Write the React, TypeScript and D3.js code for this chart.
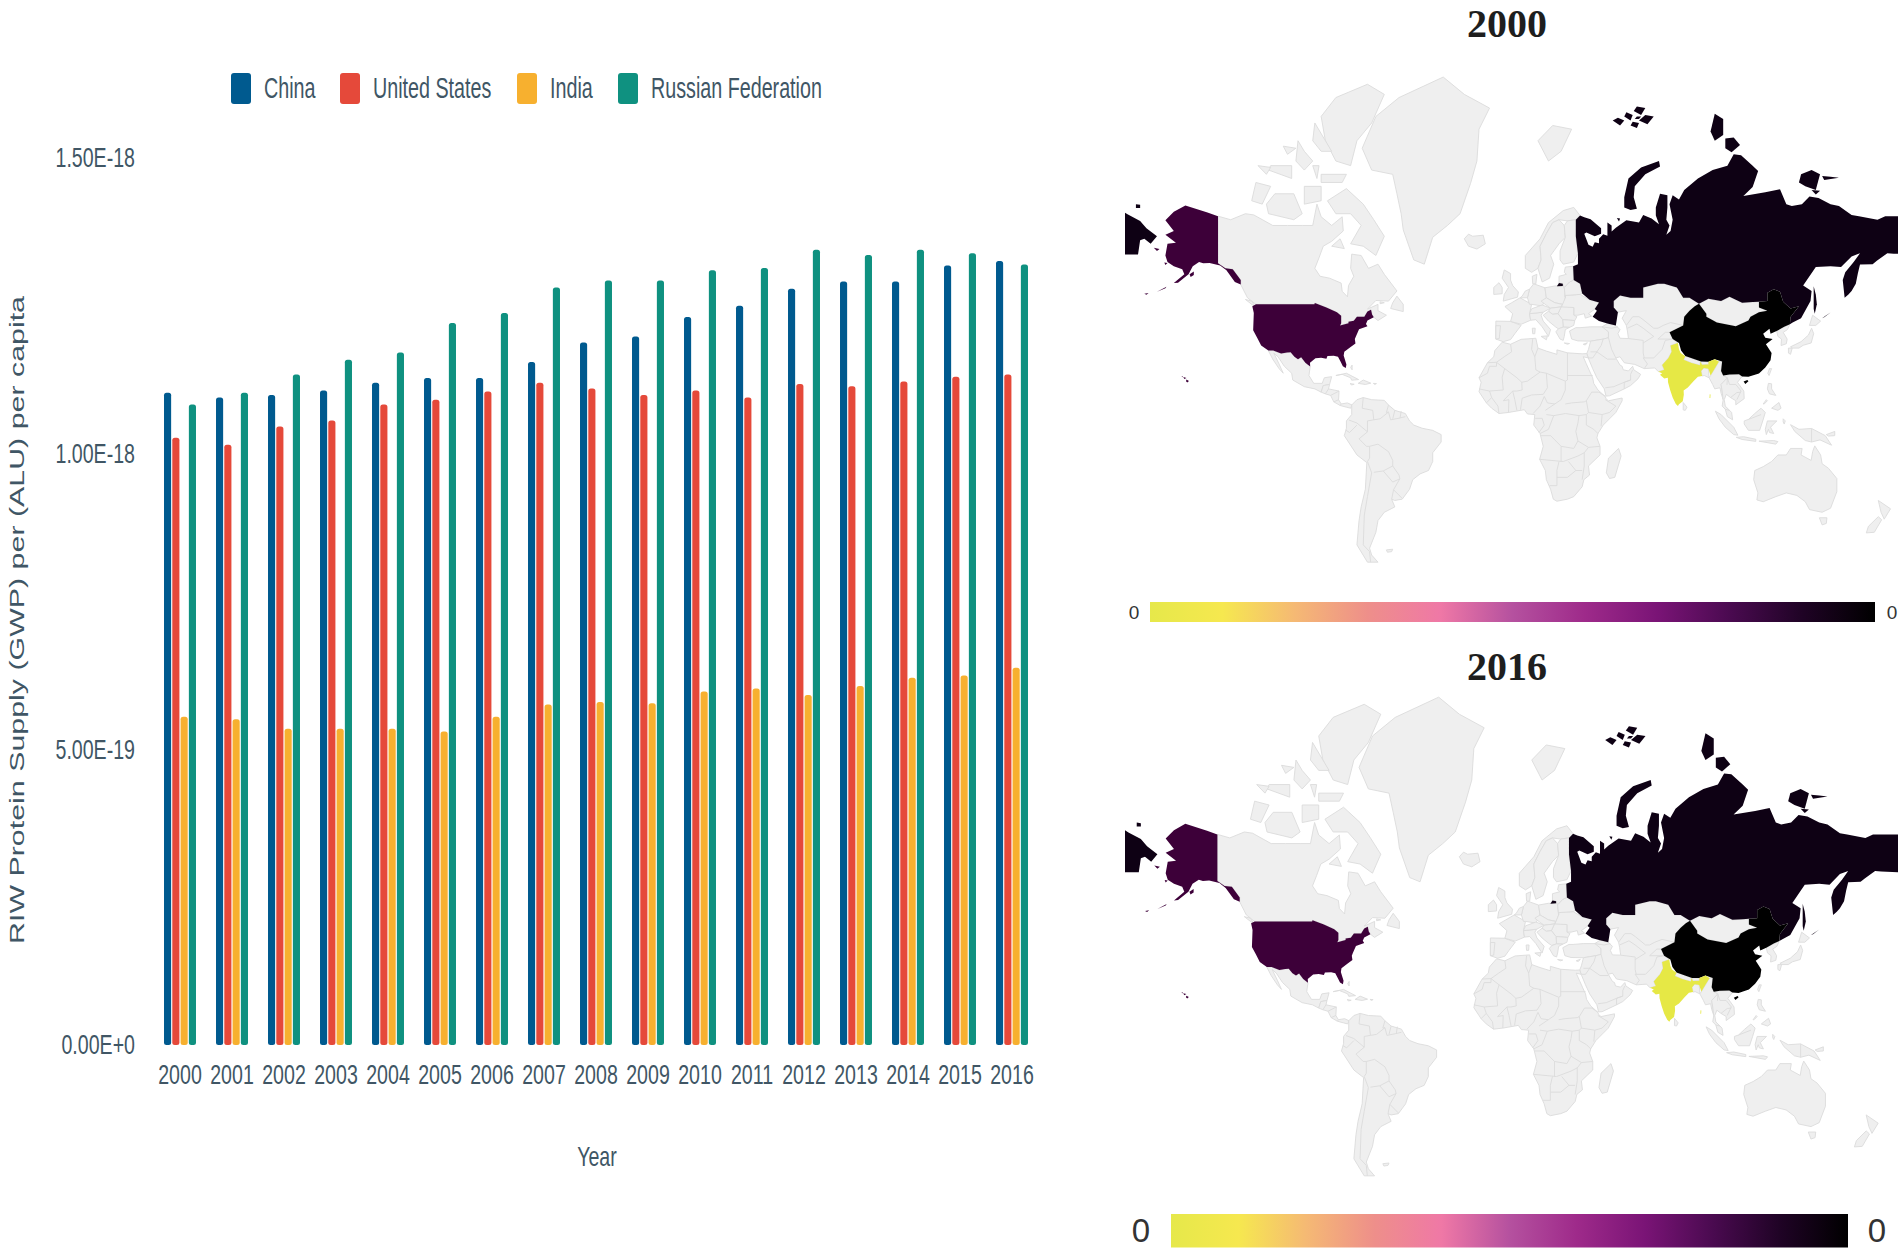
import { useEffect, useRef } from "react";
import * as d3 from "d3";

const YEARS = [2000, 2001, 2002, 2003, 2004, 2005, 2006, 2007, 2008, 2009, 2010, 2011, 2012, 2013, 2014, 2015, 2016];
const SERIES_NAMES = ["China", "United States", "India", "Russian Federation"];
const SERIES_COLORS = ["#005a8f", "#e5493a", "#f7b02f", "#0f9180"];
const CHINA = [1.103, 1.095, 1.099, 1.107, 1.12, 1.128, 1.128, 1.155, 1.188, 1.198, 1.231, 1.25, 1.279, 1.291, 1.291, 1.318, 1.326];
const UNITED_STATES = [1.027, 1.015, 1.046, 1.056, 1.083, 1.091, 1.105, 1.12, 1.11, 1.099, 1.107, 1.095, 1.118, 1.114, 1.122, 1.13, 1.134];
const INDIA = [0.555, 0.551, 0.535, 0.535, 0.535, 0.53, 0.555, 0.576, 0.58, 0.578, 0.598, 0.603, 0.592, 0.607, 0.621, 0.625, 0.638];
const RUSSIA = [1.083, 1.103, 1.134, 1.159, 1.171, 1.221, 1.238, 1.281, 1.293, 1.293, 1.31, 1.314, 1.345, 1.336, 1.345, 1.339, 1.32];
const Y_TICKS = [0, 0.5, 1, 1.5];
const Y_LABELS = ["0.00E+0", "5.00E-19", "1.00E-18", "1.50E-18"];

const SCALE_STOPS = ["#e6e84a", "#f6e84f", "#f5b974", "#ee8f8a", "#ef78a6", "#b5519f", "#9e2a8a", "#7a1476", "#4a0a50", "#1f0325", "#000000"];

type Ring = number[][];

// outlines in lon/lat
const RUSSIA_LAND: Ring[] = [
  [[31, 69.7], [33, 69.4], [36, 69.1], [41, 67.5], [41, 66.5], [38, 66], [34, 66.7], [33, 66.5], [35, 64.3], [37, 63.9], [38, 64.8], [40, 64.6], [40, 65.5], [42, 66.4], [44, 66.1], [44, 68.5], [46, 68], [46, 66.9], [48, 67.6], [53, 68.9], [59, 68.5], [61, 69.8], [65, 69.2], [68.5, 68.2], [67, 69.7], [67, 71], [69, 73], [72.5, 72.8], [72.5, 71], [72, 69], [73.5, 68], [72, 66.3], [74, 67], [75, 69], [73.5, 71.5], [75, 72.8], [78, 72.2], [80.5, 73.5], [87, 75], [94, 76], [101, 76.5], [104, 77.7], [107.5, 77.6], [113, 76.5], [115.6, 75.9], [113, 73.9], [108.6, 72.7], [119, 73.2], [126, 73.6], [129, 71.5], [131.6, 71.2], [136.4, 71.5], [140, 72.6], [144.3, 72.4], [150, 71.5], [154, 71.2], [160, 69.8], [163.5, 69.6], [172.3, 69], [176, 69.6], [182, 69.6], [190, 69.6], [190, 62.2], [180, 62.4], [177, 62.5], [172, 60.8], [170, 60], [164, 59.9], [163, 57.8], [162, 55], [160, 53], [158.5, 52], [156.7, 51], [155.8, 56], [157, 58], [161, 60.5], [164, 62.5], [160, 61.8], [155, 59.3], [150, 59.5], [143, 59.3], [137, 54.5], [141, 53], [140.5, 50], [136, 44.5], [132, 43], [130.7, 42.4], [131, 44.9], [135, 48.4], [131, 47.7], [127.5, 49.8], [126, 52.8], [123, 53.5], [120, 52.5], [120, 50], [116, 49.8], [113, 49.7], [108, 49.5], [102, 51.3], [98, 50], [92, 50.7], [87.5, 49.2], [83, 51], [80, 51], [77, 54], [71, 55], [68, 55], [61, 54], [61, 51], [55, 51], [50, 51.7], [47, 50], [47, 48], [49, 46.5], [48, 42], [44, 42.7], [40, 43.5], [37, 45], [39, 47], [38, 47.5], [40, 49.6], [35.5, 50.4], [32, 52.3], [31, 55], [28, 56], [27.7, 59.5], [30, 60], [30, 62.5], [29, 66], [29, 69]],
  [[-190, 71.2], [-184, 69.9], [-178, 68.8], [-175, 67.5], [-170, 66], [-173, 64.5], [-176, 65.5], [-178, 65.2], [-179, 62.2], [-190, 62.2]],
  [[52, 71], [55, 70.6], [58, 70.8], [56.5, 72.5], [57, 74], [62, 75.5], [69, 76.4], [68.5, 77], [60, 76.3], [54, 75], [52, 72.5]],
  [[93, 79.8], [95, 81.2], [99, 80.8], [99, 79.5], [95, 79]],
  [[100, 79.2], [104, 79.3], [107, 78.6], [103, 77.9], [100, 78.3]],
  [[46.5, 80.7], [50, 80.3], [52, 80.7], [49, 80.9]],
  [[52, 81], [55, 80.7], [56, 81.1], [53, 81.3]],
  [[56.5, 81.4], [60, 81.1], [62, 81.6], [58, 81.7]],
  [[55, 80.3], [58, 80.1], [59, 80.5], [56, 80.6]],
  [[59, 80.7], [63, 80.4], [66, 81], [62, 81.1]],
  [[57, 80.8], [59, 80.8], [60, 81], [58, 81]],
  [[136, 75.5], [141, 76], [145, 75.5], [143, 73.5], [138, 74], [135, 74.5]],
  [[146, 75.3], [150, 75.2], [154, 75.1], [147, 74.8]],
  [[141, 73.5], [145, 73.4], [143, 72.9]],
  [[48.5, 69.3], [50, 69.2], [49.5, 68.7]],
  [[-180, 71.5], [-178, 71.4], [-178, 70.9], [-180, 70.9]],
  [[142, 54.3], [143, 52], [143.5, 49], [142.5, 46], [142, 47.5], [142, 51]],
  [[146, 44.5], [148, 45.5], [150, 46.4], [147, 44.8]],
  [[20, 54.3], [22.8, 54.4], [22.8, 55], [21, 55.2]],
];
const CHINA_LAND: Ring[] = [
  [[73.5, 39.5], [80, 42], [80.5, 45], [83, 47], [85.5, 48.4], [87.5, 49.2], [91, 46], [91, 45], [96, 43], [105, 41.7], [111, 43.7], [112, 45], [116, 46.5], [120, 47], [116, 48], [116, 49.8], [120, 50], [120, 52.5], [123, 53.5], [126, 52.8], [127.5, 49.8], [131, 47.7], [135, 48.4], [131, 44.9], [130.7, 42.4], [128, 41.5], [124.4, 40], [121.5, 39], [121, 40.8], [118, 39], [119, 37.5], [122.5, 37], [119.3, 35], [122, 31.5], [121.5, 28.5], [119, 25.5], [116, 22.9], [111, 21.4], [108, 21.6], [106.5, 22.5], [102, 22.4], [99, 22], [98, 24], [98.5, 28], [95, 29], [92, 27.9], [88.5, 28], [81, 30.3], [79, 32.5], [78, 35.5], [75, 37]],
  [[108.7, 19.3], [110.5, 20], [111, 19.5], [109.5, 18.2]],
];
const USA_LAND: Ring[] = [
  [[-124.7, 48.4], [-123, 49], [-95.2, 49], [-95, 49.4], [-89.5, 48], [-84.5, 46.5], [-82.5, 45.3], [-82.5, 42.8], [-83, 42], [-79, 42.8], [-79, 43.3], [-76.5, 43.6], [-75, 45], [-71.5, 45], [-70, 46.7], [-68.3, 47.3], [-67.8, 45.7], [-67, 44.8], [-70, 43.7], [-70.7, 42.5], [-70, 41.7], [-74, 40.6], [-75.5, 38], [-76, 37], [-75.7, 35.3], [-78, 33.9], [-81, 32], [-81.3, 30.5], [-80, 26.8], [-80.3, 25.3], [-81.7, 26], [-82.8, 28], [-84, 30], [-86, 30.4], [-89, 30.3], [-89.5, 29.2], [-92, 29.6], [-94.7, 29.4], [-97.3, 27.5], [-97.2, 25.9], [-99.5, 27.5], [-101.5, 29.8], [-103, 29], [-104.7, 30], [-106.5, 31.8], [-108.2, 31.7], [-111, 31.3], [-114.8, 32.5], [-117.1, 32.5], [-120.5, 34.5], [-122.4, 37.5], [-124.3, 40.3], [-124, 46.2]],
  [[-141, 69.6], [-146, 70.2], [-156.5, 71.3], [-162, 70.3], [-166, 68.9], [-162, 67], [-166, 66.3], [-161, 64.7], [-165, 64.5], [-166, 62], [-165, 60.5], [-162, 59.5], [-158, 58.8], [-157, 57.5], [-162, 55.2], [-160, 55.3], [-155, 57.5], [-153, 59.5], [-150, 60.5], [-148, 60.2], [-145, 60.3], [-140, 59.7], [-137, 58.5], [-133, 55.5], [-130.2, 54.8], [-130.2, 56], [-134, 58.8], [-137.5, 59], [-141, 60.2]],
  [[-156, 20.2], [-154.8, 19.6], [-155.6, 18.9], [-156.2, 19.5]],
  [[-157.5, 21.3], [-156, 20.9], [-157, 20.4]],
  [[-158.3, 21.7], [-157.7, 21.7], [-158, 21.2]],
  [[-170, 52.8], [-166, 53.8], [-165.5, 54.2], [-168, 53.4]],
  [[-154.5, 57.5], [-152.5, 58.2], [-152.5, 57.3], [-154, 56.8]],
  [[-171.5, 63.7], [-168.8, 63.4], [-170, 63]],
  [[-166.5, 60.4], [-165, 60.3], [-166, 59.8]],
  [[-176, 52.2], [-174, 52.4], [-175, 51.9]],
];
const INDIA_LAND: Ring[] = [
  [[77.5, 35.5], [78, 33], [78.8, 31.5], [81, 30.2], [80.2, 28.8], [84, 27.4], [88, 26.4], [88.1, 28], [89, 26.7], [92, 26.8], [92, 27.9], [95, 29], [97, 28], [95, 25], [94, 23.5], [93, 22], [92, 24.8], [91.5, 25], [89.8, 25.3], [88.5, 24], [89, 21.8], [87, 21.5], [85, 19.6], [82.2, 16.6], [80.2, 15.3], [80.3, 13.3], [79.8, 10.3], [78, 8.9], [77.5, 8], [76.5, 9], [75, 12], [73.8, 15.5], [72.8, 19], [72.7, 21], [71, 20.7], [69, 22.3], [70, 23], [68.2, 23.7], [71, 24.5], [70, 26.5], [73, 29.5], [74.5, 32], [74, 34.5]],
  [[92.6, 13.5], [93, 13.4], [92.9, 11.8], [92.5, 11.8]],
];

const GREY_LAND: Ring[] = [
  // Canada and the Arctic
  [[-141, 69.6], [-135, 69], [-128, 70], [-124, 69.8], [-115, 68], [-108, 68], [-101, 68], [-96, 68], [-94, 71.5], [-92, 69.5], [-87, 68], [-82, 69.5], [-81.5, 67], [-87, 65], [-91, 64], [-93, 61.5], [-95, 59], [-92.5, 57], [-88, 56.5], [-82.5, 55.2], [-82, 52.9], [-79.5, 51.3], [-79, 54.5], [-76.5, 57], [-78, 59], [-77.5, 62.3], [-73, 62], [-69.5, 59], [-65, 60], [-62, 57.5], [-56, 53], [-60, 50], [-66, 50.2], [-70, 47.5], [-65, 49], [-65, 47], [-61, 45.5], [-65, 43.7], [-67, 44.8], [-67.8, 45.7], [-68.3, 47.3], [-70, 46.7], [-71.5, 45], [-75, 45], [-76.5, 43.6], [-79, 43.3], [-79, 42.8], [-83, 42], [-82.5, 42.8], [-82.5, 45.3], [-84.5, 46.5], [-89.5, 48], [-95, 49.4], [-95.2, 49], [-123, 49], [-127, 51], [-130.2, 54.8], [-130.2, 56], [-134, 58.8], [-137.5, 59], [-141, 60.2]],
  [[-62, 66], [-66, 62], [-72, 64], [-78, 64.5], [-73, 68], [-78, 70], [-85, 70], [-89, 72], [-80, 73.7], [-72, 71.5], [-67, 69]],
  [[-62, 82.5], [-70, 83.1], [-85, 82.3], [-92, 81], [-90, 79], [-85, 77], [-78, 76.5], [-75, 79], [-68, 80.5]],
  [[-117, 70], [-105, 69], [-101, 70], [-105, 73], [-114, 73], [-118, 71.5]],
  [[-125, 72], [-120, 71.5], [-116, 74], [-123, 74.5]],
  [[-92, 75.5], [-80, 75.5], [-82, 74.5], [-92, 74.5]],
  [[-95, 80.5], [-87, 78], [-92, 78], [-96, 79]],
  [[-117, 76], [-106, 75], [-106, 76.5], [-116, 76.5]],
  [[-100, 71.5], [-92, 72], [-92, 74], [-100, 74]],
  [[-103, 79], [-100, 78], [-96, 77], [-100, 76], [-104, 77]],
  [[-122, 76.5], [-116, 76.3], [-118, 75.5]],
  [[-110, 78.5], [-104, 78.3], [-108, 77.7]],
  [[-96, 76.5], [-93, 76.5], [-94, 75]],
  [[-59, 47.7], [-53, 46.7], [-53, 49], [-56, 51.5], [-58, 49.5]],
  [[-128, 50.5], [-124, 48.5], [-123.5, 48.5], [-125, 50]],
  [[-87, 64], [-81, 63.5], [-83, 65.5]],
  [[-64, 49.8], [-62, 49.5], [-64, 49.2]],
  // Greenland, Iceland, Svalbard
  [[-72.5, 78.3], [-66, 81], [-55, 82.3], [-34, 83.5], [-24, 82.5], [-12, 81.6], [-17, 80], [-18, 77], [-21, 74.4], [-26, 70], [-32, 68], [-39, 65.8], [-43, 60], [-48, 61], [-53, 67.2], [-54, 70], [-56, 73], [-58, 75.5], [-68, 76]],
  [[-24, 65.5], [-22, 64], [-18, 63.4], [-14, 64.5], [-15, 66.2], [-20, 66], [-22, 66.4]],
  [[11, 79], [16, 77], [22, 78], [27, 80], [18, 80.3]],
  // Europe
  [[-5.5, 50], [1.3, 51.2], [1.7, 52.7], [-1, 54.5], [-2, 56], [-2, 57.7], [-5, 58.6], [-6, 56.5], [-3, 54], [-5, 52]],
  [[-10, 52], [-6, 52.2], [-6, 54], [-7.5, 55.3], [-10, 54]],
  [[5, 59], [8, 58], [11, 59], [12.5, 61], [12, 64], [15, 66.5], [18, 68.5], [21, 69], [25, 68.8], [29, 69], [31, 69.7], [28, 71], [23, 70.5], [16, 68.5], [12, 65.5], [5, 62]],
  [[11, 59], [13, 55.5], [16.5, 56.5], [18.5, 60], [17, 62], [21, 64.5], [24, 65.8], [23.5, 68], [21, 69], [18, 68.5], [15, 66.5], [12, 64], [12.5, 61]],
  [[23, 60], [28, 60.5], [30, 62.5], [29, 66], [29, 69], [25, 68.8], [23.5, 68], [24, 65.8], [21.5, 63], [21.5, 61]],
  [[-9, 37], [-5.5, 36], [-2, 36.8], [0, 39], [3, 42], [-2, 43.4], [-9, 43.5]],
  [[-9, 37], [-7.4, 37.2], [-6.8, 41.9], [-9, 41.9]],
  [[-2, 43.4], [3, 42.4], [7.5, 43.8], [7, 46], [8, 49], [2.5, 51], [-1.5, 49.5], [-4.7, 48.3], [-1, 46]],
  [[7.5, 43.8], [10, 44], [13, 41.5], [16, 38], [17, 40.5], [13.5, 43.5], [12.5, 45.5], [13.5, 46.5], [7, 46]],
  [[12.5, 38], [15.5, 38.2], [15, 36.7]],
  [[8.3, 41], [9.7, 41], [9.5, 39], [8.5, 39]],
  [[7, 49], [8, 49], [13, 48.5], [15, 51], [14.3, 53.9], [9, 55], [7, 53.5], [6, 51]],
  [[2.5, 51], [6, 51], [7, 53.5], [5, 53], [3.5, 51.5]],
  [[7, 46], [13.5, 46.5], [17, 47.8], [13, 48.8], [8, 47.6]],
  [[14.3, 53.9], [15, 51], [19, 49.5], [23, 49], [24, 51], [23.5, 54], [22.8, 54.4], [19, 54.4]],
  [[8.5, 55], [10, 55], [10.5, 57.5], [8.3, 57]],
  [[12.5, 50], [15, 51], [19, 49.5], [22.5, 49], [22, 48.2], [17, 47.8], [15, 48.7]],
  [[22.2, 48.2], [24, 51], [24, 51.7], [31, 52], [35.5, 50.4], [40, 49.6], [38, 47.5], [35, 46], [36.5, 45.2], [33.5, 44.5], [33, 46], [30, 45.5], [28, 45.5], [28, 48], [24, 47.8]],
  [[24, 51.7], [31, 52], [32, 52.3], [31, 55], [28, 56], [26, 55.5], [23.5, 54], [24, 51]],
  [[21, 55.2], [22.8, 55], [23.5, 54], [26, 55.5], [28, 56], [27.7, 59.5], [24, 59.3], [23.5, 58], [24.5, 57.5], [21, 57]],
  [[22, 48.2], [28, 48], [28, 45.5], [29.5, 45], [28.5, 43.7], [22.7, 44], [20.5, 46]],
  [[16, 46.8], [17, 47.8], [22, 48.2], [20.5, 46], [18, 45.8]],
  [[22.7, 44], [28.5, 43.7], [28, 42], [26, 41.3], [23, 41.4]],
  [[13.5, 45.5], [16, 46.8], [18, 45.8], [20.5, 46], [22.7, 44], [23, 41.4], [20.7, 40.8], [19.3, 41.5], [16, 43.5]],
  [[20.7, 40.8], [23, 41.4], [26, 41.3], [24, 40.5], [23.5, 38], [23, 36.5], [21.5, 37], [19.5, 39.7]],
  [[26, 40], [27, 37], [30, 36.3], [36, 36.2], [42, 37], [44.5, 37.5], [44.5, 39.7], [42, 41.5], [36, 41.5], [31, 41.2], [29, 41.2]],
  [[23.5, 35.5], [26, 35.3], [25, 35]],
  [[32.5, 35], [34.5, 35.6], [33.5, 34.7]],
  // West and Central Asia
  [[36, 36.2], [35, 33], [34.2, 31.3], [34.9, 29.5], [37, 25], [39, 21], [42.5, 16], [43.3, 12.7], [45, 12.8], [52, 16], [55, 17.5], [58.5, 20.5], [59.8, 22.5], [56.5, 24.5], [56, 26], [54, 24], [51.5, 24.5], [51, 26], [50, 26.5], [48, 29.5], [50, 30], [52, 27.5], [57, 26.8], [61.5, 25], [66.5, 25.3], [68.2, 23.7], [71, 24.5], [70, 26.5], [73, 29.5], [74.5, 32], [74, 34.5], [77.5, 35.5], [75, 37], [73.5, 39.5], [80, 42], [80.5, 45], [83, 47], [85.5, 48.4], [87.5, 49.2], [83, 51], [80, 51], [77, 54], [71, 55], [68, 55], [61, 54], [61, 51], [55, 51], [50, 51.7], [47, 50], [47, 48], [49, 46.5], [53, 47], [51, 44.5], [53, 42], [53.5, 40], [54, 37.2], [50, 37.3], [49, 39], [50, 40.5], [48, 42], [44, 42.7], [41.5, 41.5], [44.5, 39.7], [44.5, 37.5], [42, 37]],
  [[87.5, 49.2], [92, 50.7], [98, 50], [102, 51.3], [108, 49.5], [113, 49.7], [116, 49.8], [116, 48], [120, 47], [116, 46.5], [112, 45], [111, 43.7], [105, 41.7], [96, 43], [91, 45], [91, 46]],
  // South and South East Asia
  [[81, 30.3], [88.5, 28], [88.1, 28], [88, 26.4], [84, 27.4], [80.2, 28.8]],
  [[89, 26.7], [92, 26.8], [92, 27.9], [88.5, 28]],
  [[88.5, 24], [89.8, 25.3], [91.5, 25], [92, 24.8], [92.3, 21], [90, 22], [89, 21.8]],
  [[92.3, 21], [93, 22], [94, 23.5], [95, 25], [97, 28], [98.5, 28], [98, 24], [99, 22], [101, 21], [98, 18], [98.5, 15], [99, 11], [98, 14], [97.5, 16.5], [95, 16], [94, 18]],
  [[99, 22], [102, 22.4], [106.5, 22.5], [108, 21.6], [105.8, 19], [108.8, 15], [109, 11.5], [105, 8.6], [105, 10.5], [102.5, 12], [100.5, 13.5], [99.5, 11], [100, 8], [103, 5], [103.5, 1.5], [101, 3], [100, 6.5], [98.5, 8], [99, 11], [98.5, 15], [98, 18], [101, 21]],
  [[80, 9.7], [81.8, 7.5], [81, 6], [80, 6.2]],
  [[95.3, 5.6], [98, 4], [104, -2], [106, -5.8], [104, -5.5], [100, -2], [97, 2]],
  [[105.2, -6.8], [108.7, -6.5], [114.5, -7.7], [114.5, -8.7], [108, -7.8]],
  [[109, 1], [111, 1.7], [114, 4.5], [117, 7], [119, 5], [117.8, 1], [116.3, -3.5], [111, -3.5], [109, -0.5]],
  [[119.5, -5.5], [120.5, -3], [121, -4.5], [123, -5], [121.5, -2], [124.5, 1], [120, 1], [119, -3]],
  [[131, -0.8], [135, -3], [141, -2.6], [147.5, -6], [150.5, -10.5], [145, -8], [141, -9], [138, -8.3], [133, -4]],
  [[116, -8.6], [123, -8.3], [125, -8.8], [124, -10]],
  [[127.5, 2], [128.5, 1], [128, -0.5], [127.5, 0.5]],
  [[148, -5.5], [152, -4], [152, -6], [149, -6.2]],
  [[120.5, 18.5], [122, 18.3], [122, 16], [124, 13], [121, 13.7], [120, 16]],
  [[122, 7], [125.5, 9.7], [126.5, 7], [125, 6]],
  [[118, 9], [119.5, 11], [120, 10.5], [118.5, 9]],
  [[121, 25], [122, 25], [120.8, 22], [120.2, 23]],
  [[131, 34], [136, 36], [139.5, 38.5], [141, 41], [142, 39], [140.8, 35.5], [137, 34.6], [135, 33.5], [132, 33.5]],
  [[140, 42], [141.5, 45.5], [145.3, 43.5], [143, 42]],
  [[130, 33.5], [131.8, 33.5], [131, 31], [130, 31.5]],
  [[124.4, 40], [128, 41.5], [130.7, 42.4], [129.5, 40.5], [127.5, 39.5], [129.4, 37], [129, 35.2], [126.5, 34.5], [126.7, 37], [125, 38]],
  // Australia and New Zealand
  [[114, -22], [113.5, -26], [115.5, -31.5], [115, -34.3], [118, -35], [124, -33], [129, -31.5], [134, -32.5], [138, -35], [140, -38], [146, -39], [150, -37.5], [153, -31], [153, -25.5], [149, -21], [146, -19], [145.3, -15], [142.5, -10.8], [141.5, -13.5], [140.8, -17.5], [136, -15], [136.5, -12], [131, -12], [129, -15], [125, -15], [122, -18], [118, -20.3]],
  [[144.7, -41], [148.3, -41], [148, -43], [146, -43.5]],
  [[172.7, -34.5], [178.5, -37.7], [175.5, -41.5], [174, -39]],
  [[172.7, -40.6], [174.3, -41.7], [170.8, -46], [167, -46.2], [168, -44]],
  // Mexico, Central America, Caribbean
  [[-117.1, 32.5], [-114.8, 32.5], [-111, 31.3], [-108.2, 31.7], [-106.5, 31.8], [-104.7, 30], [-103, 29], [-101.5, 29.8], [-99.5, 27.5], [-97.2, 25.9], [-97.8, 22], [-95.5, 18.5], [-91.5, 18.5], [-90.5, 21], [-87, 21.5], [-88, 18], [-91, 17.5], [-92, 14.5], [-95, 16], [-100, 17], [-105.5, 20], [-106, 23], [-109.5, 26], [-112.5, 30], [-114.5, 31.5], [-112, 27], [-110, 23], [-112, 25], [-115, 29]],
  [[-92, 14.5], [-91, 17.5], [-88, 18], [-88.5, 16], [-83.5, 15], [-83.7, 11], [-82.5, 9], [-79.5, 9.5], [-77.3, 8.5], [-78, 7], [-80, 7.5], [-83, 8.3], [-86, 10], [-87.5, 13], [-90, 13.7]],
  [[-85, 22], [-80, 23], [-74.2, 20.2], [-77.5, 19.9], [-78, 21], [-82, 22.5]],
  [[-74.4, 18.5], [-72, 20], [-68.4, 18.6], [-71, 18]],
  [[-78.3, 18.4], [-76.3, 18.1], [-77.5, 17.8]],
  [[-67.2, 18.5], [-65.7, 18.4], [-66.5, 18]],
  [[-78, 25.5], [-77.3, 26.5], [-77.3, 24.5]],
  // South America
  [[-77.5, 8.5], [-75, 11], [-72, 12], [-68, 11], [-62, 10.7], [-60, 8.5], [-57, 6], [-52, 4.5], [-50, 1], [-48, -1], [-44, -2.5], [-39, -3.5], [-35, -5.5], [-35, -9], [-39, -14], [-39, -18], [-41, -22], [-45, -23.5], [-48.5, -26], [-50, -30], [-53.5, -34], [-57, -34.5], [-58.5, -34], [-57, -37], [-62, -39], [-65, -42], [-66, -46], [-69, -51], [-68, -53], [-65, -55], [-70, -55], [-75, -50], [-74, -42], [-73, -37], [-71, -30], [-70.3, -18.5], [-75, -15], [-81, -6], [-80, -2.5], [-80, 1], [-77.5, 4]],
  [[-61, -51.5], [-58, -51.3], [-58.5, -52], [-60.5, -52.2]],
  // Africa
  [[-6, 35.8], [-2, 35], [3, 36.9], [10, 37.3], [11, 33.5], [15, 32.3], [20, 31], [20, 32.8], [25, 31.6], [32, 31.2], [34.2, 31.3], [34.9, 29.5], [32.5, 30], [34, 27], [35.5, 24], [37, 21], [37.5, 18.5], [39.5, 15.5], [43, 12.5], [43.3, 11.5], [44.5, 10.5], [51, 11.8], [51, 10.5], [48, 5], [42, -1], [39.5, -5], [39, -7], [40.5, -11], [40.5, -15], [35, -20], [35.5, -24], [32.8, -26], [32, -29], [28, -33], [25, -34], [20, -34.8], [18.3, -34], [17, -30], [15, -26], [14.5, -22], [11.8, -17], [13.5, -11], [12, -5], [9, -1], [9.5, 4], [6, 4.3], [4.5, 6.3], [-3, 5], [-7.5, 4.5], [-11, 7], [-13.5, 9.5], [-17, 14.7], [-16, 19], [-17, 21], [-13, 27.5], [-10, 30], [-9.5, 32.5]],
  [[49.3, -12], [50.5, -15.5], [47.5, -25], [45, -25.5], [43.5, -23], [44.5, -16.5]],
];

const BORDER_LINES: Ring[] = [
  // Africa
  [[-2, 35], [-1.5, 32], [-5, 30], [-8.7, 27.7], [-13, 27.5]],
  [[-8.7, 27.7], [-8.7, 26], [-12, 26], [-13, 23], [-17, 21]],
  [[8.5, 37], [8, 33], [9.5, 30], [10, 24.5], [12, 23.5]],
  [[11, 33.5], [9.5, 30]],
  [[-8.7, 27.7], [-4.8, 25], [1, 21], [3.3, 19], [6, 19.5], [12, 23.5]],
  [[25, 31.6], [25, 20]],
  [[12, 23.5], [15, 23], [24, 19.5], [25, 20]],
  [[25, 22], [37, 22]],
  [[-4.8, 25], [-6, 21.3], [-5.5, 15.5], [-12, 15], [-17, 16]],
  [[3.3, 19], [3.5, 15.5], [1, 15], [-1, 15], [-5.5, 10.5]],
  [[3.5, 11.7], [8, 13.2], [13.5, 13.5], [15.5, 16.5], [15, 23]],
  [[24, 19.5], [24, 15.5], [22, 11], [19, 9], [15.5, 9.5], [14, 12.5]],
  [[8.7, 4.5], [12, 8], [14, 12.5]],
  [[2.7, 6.3], [3.5, 11.7]],
  [[-3, 5], [-2.8, 11], [-5.5, 10.5]],
  [[1, 6], [0, 11], [-1, 15]],
  [[-7.5, 4.5], [-8, 8], [-11, 12]],
  [[-13.5, 9.5], [-11, 12], [-12, 15]],
  [[24, 9], [27, 9.5], [33, 10], [34, 10.5]],
  [[36.5, 14.5], [34, 10.5], [35, 5]],
  [[36.5, 14.5], [40, 14.5], [43, 12.5]],
  [[43, 11], [48, 8], [45, 5], [41.5, 4]],
  [[41.5, 4], [41, -1.5]],
  [[41.5, 4], [35, 5], [34, 4], [34, -1], [37.5, -3], [39.5, -5]],
  [[14.5, 6], [19, 9]],
  [[15, 4], [18.5, 3.5], [24, 4.5], [30.5, 3.5], [34, 4]],
  [[9.7, 2.2], [13, 2.2], [14, -1], [11.5, -4.5]],
  [[18.5, 3.5], [16, -3], [12, -5]],
  [[12.5, -6], [17, -6], [22, -11], [28, -12], [30, -8.5], [29, -4], [30, 0], [30.5, 3.5]],
  [[30, -8.5], [35, -11.5], [40.5, -11]],
  [[11.8, -17], [23, -18]],
  [[22, -11], [22, -18]],
  [[23, -18], [30, -15.5], [33, -14], [35, -11.5]],
  [[33, -14], [33, -20], [32, -26]],
  [[16.5, -28.5], [20, -28.5], [20, -22], [21, -18]],
  [[20, -25], [25, -25], [29, -22], [32, -22]],
  [[25.5, -18], [29, -22]],
  // South America
  [[-72, 12], [-72.5, 7], [-67.5, 6], [-67, 1.5]],
  [[-67, 1.5], [-70, 1], [-70, -4.2]],
  [[-78.8, 1.4], [-75, 0], [-70, -4.2]],
  [[-80.3, -3.4], [-78.5, -4.5], [-75, -1]],
  [[-70, -4.2], [-74, -7.5], [-70.5, -11], [-69, -11]],
  [[-69, -11], [-69, -16.5], [-70, -18]],
  [[-69, -11], [-65, -10], [-60, -13.5], [-58, -17.5], [-58, -20]],
  [[-70, -18], [-68, -23]],
  [[-58, -20], [-62.5, -22.2], [-67, -22.8]],
  [[-68, -23], [-70, -33], [-71.5, -40], [-72, -50], [-69, -52], [-68.5, -55]],
  [[-62.5, -22.2], [-58, -27], [-54.6, -25.6], [-55, -24], [-58, -20]],
  [[-57.6, -30.2], [-53.5, -33.7]],
  [[-58.5, -34], [-57.6, -30.2], [-54.6, -25.6]],
  [[-60, 8.5], [-61, 5], [-60, 5.2], [-64, 2], [-67, 1.5]],
  [[-57, 6], [-58, 2]],
  [[-54, 5.7], [-54.5, 2.3]],
  [[-60, 5.2], [-59, 1.5], [-55, 2.3], [-52, 3]],
  // West and Central Asia
  [[53, 42], [56, 45], [59, 45], [61, 44], [66, 41], [68, 41], [70.5, 42], [74, 43], [80, 42]],
  [[53.5, 41], [58, 42.5], [61, 41], [66, 38], [61, 35.5]],
  [[54, 37.2], [61, 36.5]],
  [[61, 36.5], [61, 31.5], [61.5, 29.5]],
  [[61.5, 25], [63, 27], [61, 29.5]],
  [[61, 29.5], [66, 29.5], [70, 33], [71.5, 36.5], [75, 37]],
  [[68, 37], [71.5, 39.5], [73.5, 39.5]],
  [[68, 37], [75, 37]],
  [[48, 29.5], [46, 33], [44.5, 37.5]],
  [[42, 37], [41, 34.5], [39, 32]],
  [[39, 32], [44, 29], [48, 29]],
  [[36, 32], [39, 32], [37, 29.5], [35, 29.5]],
  [[43, 16.5], [47, 17], [52, 19], [55, 20]],
  [[52, 16], [52, 19], [55, 20], [55, 22.5], [56, 24.5]],
  [[41.5, 41.5], [46, 41], [49, 41.5]],
  // Central America and South East Asia
  [[-88.5, 16], [-90, 13.7]],
  [[-87.5, 13], [-83.5, 15]],
  [[-83.7, 11], [-86, 10]],
  [[-83, 8.3], [-82.5, 9]],
  [[101, 21], [102, 18], [105, 18], [107.5, 15], [105.5, 11]],
  [[101, 21], [100.8, 17.8]],
  [[102.5, 12], [105.5, 14.3], [107.5, 14.5]],
  [[100, 6.5], [102, 6]],
  [[111, 1.7], [117, 4]],
  [[141, -2.6], [141, -9]],
];

const mapStyle = { stroke: "#dbdbdb", strokeWidth: 0.9 };

type MapProps = {
  id: string;
  title: string;
  titleY: number;
  titleSize: number;
  cx: number;
  cy: number;
  kx: number;
  ky: number;
  barX: number[];
  barY: number[];
  labelX: number[];
  labelSize: number;
};

function WorldMap({ id, title, titleY, titleSize, cx, cy, kx, ky, barX, barY, labelX, labelSize }: MapProps) {
  const toRad = Math.PI / 180;
  const x = d3.scaleLinear().domain([0, 1]).range([cx, cx + kx]);
  const y = d3.scaleLinear().domain([0, 1]).range([cy, cy - ky]);
  const line = d3
    .line<number[]>()
    .x((d) => x(d[0] * toRad))
    .y((d) => y(d3.geoMercatorRaw(0, d[1] * toRad)[1]));
  const ring = (r: Ring) => line(r) + "Z";
  const labelY = (barY[0] + barY[1]) / 2;
  return (
    <g>
      <defs>
        <clipPath id={`${id}-clip`}>
          <rect x={1125} y={barY[0] - 600} width={773} height={600} />
        </clipPath>
        <linearGradient id={`${id}-ramp`}>
          {SCALE_STOPS.map((c, i) => (
            <stop key={i} offset={i / (SCALE_STOPS.length - 1)} stopColor={c} />
          ))}
        </linearGradient>
      </defs>
      <text x={1507} y={titleY} textAnchor="middle" dominantBaseline="central" fontFamily="Liberation Serif" fontWeight="bold" fontSize={titleSize} fill="#1e1e1e">
        {title}
      </text>
      <g clipPath={`url(#${id}-clip)`}>
        {GREY_LAND.map((r, i) => (
          <path key={i} d={ring(r)} fill="#efefef" {...mapStyle} />
        ))}
        {BORDER_LINES.map((r, i) => (
          <path key={i} d={line(r)!} fill="none" {...mapStyle} />
        ))}
        {USA_LAND.map((r, i) => (
          <path key={i} d={ring(r)} fill="#3d0039" />
        ))}
        {RUSSIA_LAND.map((r, i) => (
          <path key={i} d={ring(r)} fill="#0e0114" />
        ))}
        {CHINA_LAND.map((r, i) => (
          <path key={i} d={ring(r)} fill="#000000" />
        ))}
        {INDIA_LAND.map((r, i) => (
          <path key={i} d={ring(r)} fill="#e6e845" />
        ))}
      </g>
      <rect x={barX[0]} y={barY[0]} width={barX[1] - barX[0]} height={barY[1] - barY[0]} fill={`url(#${id}-ramp)`} />
      {labelX.map((lx, i) => (
        <text key={i} x={lx} y={labelY} textAnchor="middle" dominantBaseline="central" fontFamily="Liberation Sans" fontSize={labelSize} fill="#333">
          0
        </text>
      ))}
    </g>
  );
}

const SQUEEZE = 0.7;
const TEXT_COLOR = "#405665";

function BarChart() {
  const ref = useRef<SVGGElement>(null);

  useEffect(() => {
    if (!ref.current) return;
    const g = d3.select(ref.current);
    g.selectAll("*").remove();

    const x = d3
      .scaleBand<number>()
      .domain(YEARS)
      .range([154, 1038])
      .paddingInner(0.385)
      .paddingOuter(0.1925);
    const inner = d3
      .scaleBand<number>()
      .domain([0, 1, 2, 3])
      .range([0, x.bandwidth()])
      .paddingInner(0.14);
    const y = d3.scaleLinear().domain([0, 1.5]).range([1045, 158]);

    const values = [CHINA, UNITED_STATES, INDIA, RUSSIA];
    values.forEach((vals, s) => {
      g.append("g")
        .selectAll("rect")
        .data(vals)
        .join("rect")
        .attr("x", (_, i) => x(YEARS[i])! + inner(s)!)
        .attr("y", (d) => y(d))
        .attr("width", inner.bandwidth())
        .attr("height", (d) => y(0) - y(d))
        .attr("rx", 2.5)
        .attr("fill", SERIES_COLORS[s]);
    });

    const yAxis = g
      .append("g")
      .attr("transform", "translate(135,0)")
      .call(
        d3
          .axisLeft(y)
          .tickValues(Y_TICKS)
          .tickSize(0)
          .tickPadding(0)
          .tickFormat((_, i) => Y_LABELS[i])
      );
    const xAxis = g
      .append("g")
      .attr("transform", `translate(0,${y(0)})`)
      .call(d3.axisBottom(x).tickSize(0).tickPadding(19).tickFormat(d3.format("d")));

    for (const axis of [yAxis, xAxis]) {
      axis.select(".domain").remove();
      axis
        .selectAll("text")
        .attr("transform", `scale(${SQUEEZE},1)`)
        .attr("fill", TEXT_COLOR)
        .style("font-family", "Liberation Sans")
        .style("font-size", "28px");
    }

    g.append("text")
      .attr("transform", `translate(597,1166) scale(${SQUEEZE},1)`)
      .attr("text-anchor", "middle")
      .attr("fill", TEXT_COLOR)
      .style("font-family", "Liberation Sans")
      .style("font-size", "28px")
      .text("Year");

    g.append("text")
      .attr("transform", `translate(24,620) scale(${SQUEEZE},1) rotate(-90)`)
      .attr("text-anchor", "middle")
      .attr("textLength", 648)
      .attr("lengthAdjust", "spacingAndGlyphs")
      .attr("fill", TEXT_COLOR)
      .style("font-family", "Liberation Sans")
      .style("font-size", "28px")
      .text("RIW Protein Supply (GWP) per (ALU) per capita");

    // legend
    const swatchX = [231, 340, 517, 618];
    SERIES_NAMES.forEach((name, i) => {
      g.append("rect")
        .attr("x", swatchX[i])
        .attr("y", 73)
        .attr("width", 20)
        .attr("height", 31)
        .attr("rx", 3)
        .attr("fill", SERIES_COLORS[i]);
      g.append("text")
        .attr("transform", `translate(${swatchX[i] + 33},98) scale(0.68,1)`)
        .attr("fill", TEXT_COLOR)
        .style("font-family", "Liberation Sans")
        .style("font-size", "29px")
        .text(name);
    });
  }, []);

  return <g ref={ref} />;
}

export default function App() {
  return (
    <svg width={1904} height={1254} style={{ position: "absolute", left: 0, top: 0, background: "#fff" }}>
      <BarChart />
      <WorldMap
        id="y2000"
        title="2000"
        titleY={23}
        titleSize={40}
        cx={1514.8}
        cy={423}
        kx={120.6}
        ky={120.6}
        barX={[1150, 1875]}
        barY={[602, 622]}
        labelX={[1134, 1892]}
        labelSize={19}
      />
      <WorldMap
        id="y2016"
        title="2016"
        titleY={666}
        titleSize={40}
        cx={1509}
        cy={1038.5}
        kx={118.5}
        ky={119}
        barX={[1171, 1848]}
        barY={[1214, 1247.5]}
        labelX={[1141, 1877]}
        labelSize={33}
      />
    </svg>
  );
}
